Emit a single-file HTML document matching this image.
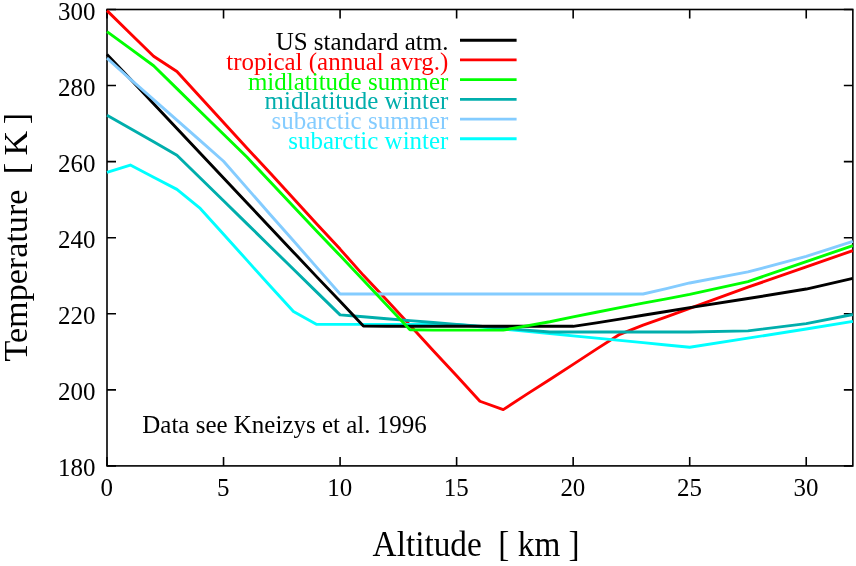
<!DOCTYPE html>
<html><head><meta charset="utf-8"><title>Temperature profiles</title>
<style>
html,body{margin:0;padding:0;background:#fff;}
body{width:856px;height:566px;overflow:hidden;font-family:"Liberation Serif",serif;}
svg{display:block;will-change:transform;}
text{font-family:"Liberation Serif",serif;}
.t{font-size:25.0px;}
.l{font-size:33.3px;}
</style></head><body>
<svg width="856" height="566" viewBox="0 0 856 566">
<rect x="0" y="0" width="856" height="566" fill="#ffffff"/>
<path d="M107.00 465.90V456.90M107.00 9.50V18.50M223.54 465.90V456.90M223.54 9.50V18.50M340.08 465.90V456.90M340.08 9.50V18.50M456.62 465.90V456.90M456.62 9.50V18.50M573.16 465.90V456.90M573.16 9.50V18.50M689.70 465.90V456.90M689.70 9.50V18.50M806.23 465.90V456.90M806.23 9.50V18.50M107.00 465.90H116.00M852.85 465.90H843.85M107.00 389.83H116.00M852.85 389.83H843.85M107.00 313.77H116.00M852.85 313.77H843.85M107.00 237.70H116.00M852.85 237.70H843.85M107.00 161.63H116.00M852.85 161.63H843.85M107.00 85.57H116.00M852.85 85.57H843.85M107.00 9.50H116.00M852.85 9.50H843.85" stroke="#000" stroke-width="1.6" fill="none"/>
<rect x="107.00" y="9.50" width="745.85" height="456.40" fill="none" stroke="#000" stroke-width="1.6"/>
<polyline points="107.00,10.64 130.31,33.46 153.62,56.28 176.92,71.49 200.23,96.98 223.54,122.46 246.85,147.94 270.15,173.04 293.46,198.53 316.77,224.01 340.08,249.11 363.39,275.35 386.69,300.07 410.00,325.18 433.31,350.66 456.62,375.76 479.93,401.24 503.23,409.61 526.54,394.40 549.85,379.56 573.16,364.35 596.46,349.14 619.77,334.30 643.08,325.18 666.39,316.81 689.70,308.44 747.96,287.14 806.23,266.99 852.85,250.56" fill="none" stroke="#ff0000" stroke-width="2.9" stroke-linejoin="round" stroke-linecap="butt"/>
<polyline points="107.00,172.28 130.31,165.06 153.62,177.23 176.92,189.40 200.23,208.41 223.54,234.28 246.85,260.14 270.15,286.00 293.46,311.48 316.77,324.42 340.08,324.42 363.39,324.42 386.69,324.42 410.00,324.42 433.31,324.42 456.62,324.42 479.93,326.70 503.23,328.98 526.54,331.26 549.85,333.54 573.16,335.83 596.46,338.11 619.77,340.39 643.08,342.67 666.39,344.95 689.70,347.24 747.96,338.11 806.23,328.98 852.85,321.37" fill="none" stroke="#00ffff" stroke-width="2.9" stroke-linejoin="round" stroke-linecap="butt"/>
<polyline points="107.00,115.23 130.31,128.54 153.62,141.86 176.92,155.17 200.23,177.99 223.54,200.81 246.85,223.63 270.15,246.45 293.46,269.27 316.77,292.09 340.08,314.91 363.39,316.81 386.69,318.71 410.00,320.61 433.31,322.51 456.62,324.42 479.93,326.32 503.23,328.22 526.54,330.12 549.85,332.02 573.16,332.02 596.46,332.02 619.77,332.02 643.08,332.02 666.39,332.02 689.70,332.02 747.96,330.88 806.23,323.66 852.85,314.53" fill="none" stroke="#00aeac" stroke-width="2.9" stroke-linejoin="round" stroke-linecap="butt"/>
<polyline points="107.00,54.38 130.31,79.10 153.62,103.82 176.92,128.54 200.23,153.27 223.54,177.99 246.85,202.71 270.15,227.43 293.46,252.15 316.77,276.87 340.08,301.22 363.39,325.94 386.69,326.32 410.00,326.32 433.31,326.32 456.62,326.32 479.93,326.32 503.23,326.32 526.54,326.32 549.85,326.32 573.16,326.32 596.46,322.89 619.77,319.09 643.08,315.29 666.39,311.48 689.70,307.68 747.96,298.55 806.23,289.04 852.85,278.40" fill="none" stroke="#000000" stroke-width="2.9" stroke-linejoin="round" stroke-linecap="butt"/>
<polyline points="107.00,58.18 130.31,79.10 153.62,99.64 176.92,120.18 200.23,140.71 223.54,161.25 246.85,187.88 270.15,214.50 293.46,240.74 316.77,267.37 340.08,293.99 363.39,293.99 386.69,293.99 410.00,293.99 433.31,293.99 456.62,293.99 479.93,293.99 503.23,293.99 526.54,293.99 549.85,293.99 573.16,293.99 596.46,293.99 619.77,293.99 643.08,293.99 666.39,288.66 689.70,282.96 747.96,271.93 806.23,256.34 852.85,241.43" fill="none" stroke="#84ccff" stroke-width="2.9" stroke-linejoin="round" stroke-linecap="butt"/>
<polyline points="107.00,31.56 130.31,48.67 153.62,65.79 176.92,88.61 200.23,111.43 223.54,134.25 246.85,157.07 270.15,181.79 293.46,206.51 316.77,231.23 340.08,255.58 363.39,280.30 386.69,305.02 410.00,329.74 433.31,330.12 456.62,330.12 479.93,330.12 503.23,330.12 526.54,325.94 549.85,321.75 573.16,316.81 596.46,312.25 619.77,307.68 643.08,303.12 666.39,298.93 689.70,294.37 747.96,281.63 806.23,261.66 852.85,245.53" fill="none" stroke="#00ff00" stroke-width="2.9" stroke-linejoin="round" stroke-linecap="butt"/>
<text class="t" transform="translate(95.50 476.20) scale(1 1.045)" text-anchor="end" xml:space="preserve">180</text>
<text class="t" transform="translate(95.50 400.13) scale(1 1.045)" text-anchor="end" xml:space="preserve">200</text>
<text class="t" transform="translate(95.50 324.07) scale(1 1.045)" text-anchor="end" xml:space="preserve">220</text>
<text class="t" transform="translate(95.50 248.00) scale(1 1.045)" text-anchor="end" xml:space="preserve">240</text>
<text class="t" transform="translate(95.50 171.93) scale(1 1.045)" text-anchor="end" xml:space="preserve">260</text>
<text class="t" transform="translate(95.50 95.87) scale(1 1.045)" text-anchor="end" xml:space="preserve">280</text>
<text class="t" transform="translate(95.50 19.80) scale(1 1.045)" text-anchor="end" xml:space="preserve">300</text>
<text class="t" transform="translate(106.70 496.00) scale(1 1.045)" text-anchor="middle" xml:space="preserve">0</text>
<text class="t" transform="translate(223.24 496.00) scale(1 1.045)" text-anchor="middle" xml:space="preserve">5</text>
<text class="t" transform="translate(339.78 496.00) scale(1 1.045)" text-anchor="middle" xml:space="preserve">10</text>
<text class="t" transform="translate(456.32 496.00) scale(1 1.045)" text-anchor="middle" xml:space="preserve">15</text>
<text class="t" transform="translate(572.86 496.00) scale(1 1.045)" text-anchor="middle" xml:space="preserve">20</text>
<text class="t" transform="translate(689.40 496.00) scale(1 1.045)" text-anchor="middle" xml:space="preserve">25</text>
<text class="t" transform="translate(805.93 496.00) scale(1 1.045)" text-anchor="middle" xml:space="preserve">30</text>
<text class="t" transform="translate(448.40 50.10) scale(1 1.045)" text-anchor="end" fill="#000000" xml:space="preserve">US standard atm.</text>
<path d="M460 40.20H516.6" stroke="#000000" stroke-width="2.9"/>
<text class="t" transform="translate(448.40 69.82) scale(1 1.045)" text-anchor="end" fill="#ff0000" xml:space="preserve">tropical (annual avrg.)</text>
<path d="M460 59.92H516.6" stroke="#ff0000" stroke-width="2.9"/>
<text class="t" transform="translate(448.40 89.54) scale(1 1.045)" text-anchor="end" fill="#00ff00" xml:space="preserve">midlatitude summer</text>
<path d="M460 79.64H516.6" stroke="#00ff00" stroke-width="2.9"/>
<text class="t" transform="translate(448.40 109.26) scale(1 1.045)" text-anchor="end" fill="#00aeac" xml:space="preserve">midlatitude winter</text>
<path d="M460 99.36H516.6" stroke="#00aeac" stroke-width="2.9"/>
<text class="t" transform="translate(448.40 128.98) scale(1 1.045)" text-anchor="end" fill="#84ccff" xml:space="preserve">subarctic summer</text>
<path d="M460 119.08H516.6" stroke="#84ccff" stroke-width="2.9"/>
<text class="t" transform="translate(448.40 148.70) scale(1 1.045)" text-anchor="end" fill="#00ffff" xml:space="preserve">subarctic winter</text>
<path d="M460 138.80H516.6" stroke="#00ffff" stroke-width="2.9"/>
<text class="t" transform="translate(142.30 433.20) scale(1 1.045)" xml:space="preserve">Data see Kneizys et al. 1996</text>
<text class="l" transform="translate(372.60 555.90) scale(1 1.045)" xml:space="preserve">Altitude  [ km ]</text>
<text class="l" transform="translate(26.70 361.50) rotate(-90) scale(1.025 1.01)" xml:space="preserve">Temperature</text>
<text class="l" transform="translate(26.70 174.30) rotate(-90) scale(1.025 1.01)" xml:space="preserve">[</text>
<text class="l" transform="translate(26.70 155.40) rotate(-90) scale(1.025 1.01)" xml:space="preserve">K</text>
<text class="l" transform="translate(26.70 124.20) rotate(-90) scale(1.025 1.01)" xml:space="preserve">]</text>
</svg>
</body></html>
